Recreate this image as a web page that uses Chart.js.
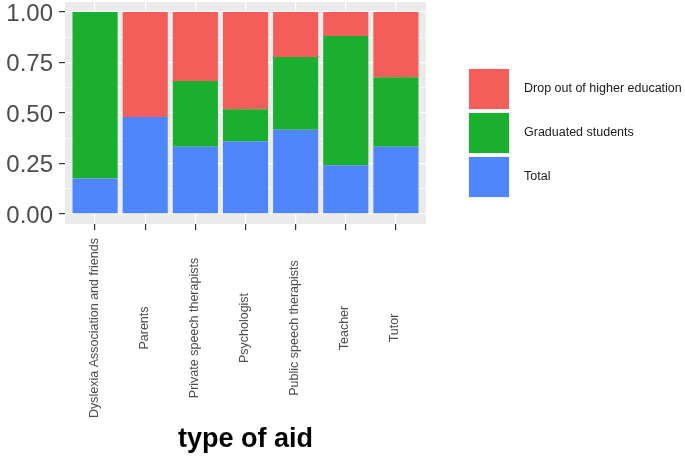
<!DOCTYPE html>
<html>
<head>
<meta charset="utf-8">
<script src="https://cdn.jsdelivr.net/npm/chart.js@4/dist/chart.umd.min.js"></script>
<style>
  html, body { margin: 0; padding: 0; background: #ffffff; }
  #wrap { width: 685px; height: 456px; position: relative; }
</style>
</head>
<body>
<div id="wrap"><canvas id="c" width="685" height="456"></canvas></div>
<script>
// ---- data ----
const categories = [
  "Dyslexia Association and friends",
  "Parents",
  "Private speech therapists",
  "Psychologist",
  "Public speech therapists",
  "Teacher",
  "Tutor"
];
const totalValues     = [0.175, 0.480, 0.333, 0.360, 0.417, 0.241, 0.333];
const graduatedValues = [0.825, 0.000, 0.326, 0.158, 0.360, 0.641, 0.344];
const dropoutValues   = [0.000, 0.520, 0.341, 0.482, 0.223, 0.118, 0.323];
const yMajorTicks = [0, 0.25, 0.5, 0.75, 1];
const yMinorTicks = [0.125, 0.375, 0.625, 0.875];
const seriesNames = ["Total", "Graduated students", "Drop out of higher education"];
const xTitle = "type of aid";

const colTotal = "#4F86FE";
const colGrad = "#1AAF2E";
const colDrop = "#F35E5A";

const isMajor = v => yMajorTicks.some(t => Math.abs(t - v) < 1e-6);

const panelBg = {
  id: "panelBg",
  beforeDraw(chart) {
    const {ctx, chartArea: a} = chart;
    ctx.save();
    ctx.fillStyle = "#EBEBEB";
    ctx.fillRect(a.left, a.top, a.right - a.left, a.bottom - a.top);
    ctx.restore();
  }
};

const extras = {
  id: "extras",
  afterDraw(chart) {
    const {ctx, chartArea: a} = chart;
    const xs = chart.scales.x;
    ctx.save();
    // rotated category labels, centred vertically
    ctx.fillStyle = "#4D4D4D";
    ctx.font = "12.5px 'Liberation Sans', Arial, sans-serif";
    ctx.textAlign = "center";
    ctx.textBaseline = "alphabetic";
    categories.forEach((lab, i) => {
      const px = xs.getPixelForValue(i);
      ctx.save();
      ctx.translate(px + 2.5, 328);
      ctx.rotate(-Math.PI / 2);
      ctx.fillText(lab, 0, 0);
      ctx.restore();
    });
    // axis title
    ctx.fillStyle = "#000000";
    ctx.font = "bold 27px 'Liberation Sans', Arial, sans-serif";
    ctx.textAlign = "center";
    ctx.fillText(xTitle, (a.left + a.right) / 2, 447);
    // legend (reverse order, top = last stacked)
    const ds = chart.data.datasets.slice().reverse();
    ctx.font = "12.5px 'Liberation Sans', Arial, sans-serif";
    ctx.textAlign = "left";
    ctx.textBaseline = "middle";
    ds.forEach((d, i) => {
      const y0 = 69 + 44 * i;
      ctx.fillStyle = "#F2F2F2";
      ctx.fillRect(468, y0 - 1, 42, 42);
      ctx.fillStyle = d.backgroundColor;
      ctx.fillRect(469, y0, 40, 40);
      ctx.fillStyle = "#1A1A1A";
      ctx.fillText(d.label, 524, y0 + 20);
    });
    ctx.restore();
  }
};

new Chart(document.getElementById("c"), {
  type: "bar",
  data: {
    labels: categories.map((_, i) => i),
    datasets: [
      { label: seriesNames[0], data: totalValues, backgroundColor: colTotal },
      { label: seriesNames[1], data: graduatedValues, backgroundColor: colGrad },
      { label: seriesNames[2], data: dropoutValues, backgroundColor: colDrop }
    ]
  },
  options: {
    responsive: false,
    animation: false,
    devicePixelRatio: 1,
    layout: { padding: { top: 2, right: 259, bottom: 0, left: 0 } },
    datasets: { bar: { categoryPercentage: 1, barPercentage: 0.9, borderWidth: 0 } },
    plugins: { legend: { display: false }, tooltip: { enabled: false } },
    scales: {
      x: {
        type: "linear",
        stacked: true,
        offset: false,
        min: -0.6,
        max: 6.6,
        afterBuildTicks: s => { s.ticks = categories.map((_, i) => ({ value: i })); },
        afterFit: s => { s.height = 232; s.paddingLeft = 0; s.paddingRight = 0; },
        ticks: { display: false, autoSkip: false },
        border: { display: false },
        grid: {
          offset: false,
          color: "#FFFFFF",
          lineWidth: 1.2,
          drawTicks: true,
          tickLength: 6,
          tickColor: "#333333",
          tickWidth: 1.2
        }
      },
      y: {
        stacked: true,
        min: -0.05,
        max: 1.05,
        afterBuildTicks: s => {
          s.ticks = yMajorTicks.concat(yMinorTicks).sort((a, b) => a - b).map(v => ({ value: v }));
        },
        afterFit: s => { s.width = 65; s.paddingTop = 0; s.paddingBottom = 0; },
        ticks: {
          autoSkip: false,
          padding: 6,
          labelOffset: 2,
          color: "#4D4D4D",
          font: { family: "'Liberation Sans', Arial, sans-serif", size: 24 },
          callback: v => isMajor(v) ? v.toFixed(2) : ""
        },
        border: { display: false },
        grid: {
          color: "#FFFFFF",
          lineWidth: c => isMajor(c.tick.value) ? 1.2 : 0.6,
          drawTicks: true,
          tickLength: 6,
          tickColor: c => isMajor(c.tick.value) ? "#333333" : "rgba(0,0,0,0)",
          tickWidth: 1.2
        }
      }
    }
  },
  plugins: [panelBg, extras]
});
</script>
</body>
</html>
